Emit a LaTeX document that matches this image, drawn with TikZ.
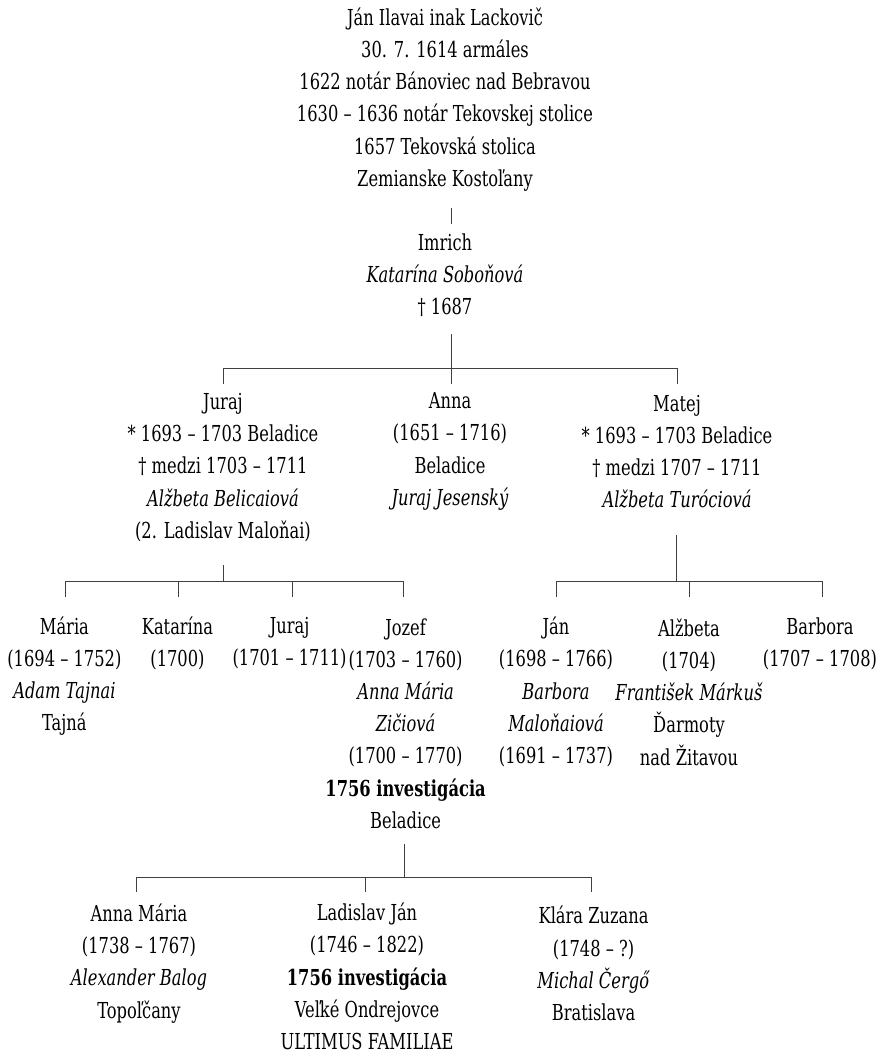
\documentclass[tikz,border=0pt]{standalone}
\usepackage{fontspec}
\setmainfont{DejaVu Serif}[FakeStretch=0.74]
\begin{document}
\begin{tikzpicture}[x=1pt,y=-1pt,
  person/.style={align=center, inner sep=0pt, font=\fontsize{22}{32.2}\selectfont},
  conn/.style={draw=black!75, line width=0.9pt}]
\useasboundingbox (0,0) rectangle (877,1052);
% nodes
\node[person] (top) at (445,99.4) {Ján Ilavai inak Lackovič\\30. 7. 1614 armáles\\1622 notár Bánoviec nad Bebravou\\1630 – 1636 notár Tekovskej stolice\\1657 Tekovská stolica\\Zemianske Kostoľany};
\node[person] (imrich) at (445,275) {Imrich\\\textit{Katarína Soboňová}\\† 1687};
\node[person] (juraj) at (223,467.5) {Juraj\\* 1693 – 1703 Beladice\\† medzi 1703 – 1711\\\textit{Alžbeta Belicaiová}\\(2. Ladislav Maloňai)};
\node[person] (anna) at (450,451.5) {Anna\\(1651 – 1716)\\Beladice\\\textit{Juraj Jesenský}};
\node[person] (matej) at (677,451.5) {Matej\\* 1693 – 1703 Beladice\\† medzi 1707 – 1711\\\textit{Alžbeta Turóciová}};
\node[person] (maria) at (64.4,676) {Mária\\(1694 – 1752)\\\textit{Adam Tajnai}\\Tajná};
\node[person] (katarina) at (177.5,643.5) {Katarína\\(1700)};
\node[person] (juraj2) at (289.6,643.5) {Juraj\\(1701 – 1711)};
\node[person] (jozef) at (405.6,723.5) {Jozef\\(1703 – 1760)\\\textit{Anna Mária}\\\textit{Zičiová}\\(1700 – 1770)\\\textbf{1756 investigácia}\\Beladice};
\node[person] (jan) at (556,692) {Ján\\(1698 – 1766)\\\textit{Barbora}\\\textit{Maloňaiová}\\(1691 – 1737)};
\node[person] (alzbeta) at (689,692) {Alžbeta\\(1704)\\\textit{František Márkuš}\\Ďarmoty\\nad Žitavou};
\node[person] (barbora) at (820,643.5) {Barbora\\(1707 – 1708)};
\node[person] (annam) at (139,963.5) {Anna Mária\\(1738 – 1767)\\\textit{Alexander Balog}\\Topoľčany};
\node[person] (ladislav) at (367,976.5) {Ladislav Ján\\(1746 – 1822)\\\textbf{1756 investigácia}\\Veľké Ondrejovce\\ULTIMUS FAMILIAE};
\node[person] (klara) at (593.6,963.5) {Klára Zuzana\\(1748 – ?)\\\textit{Michal Čergő}\\Bratislava};
% junction coordinates
\coordinate (s1a) at (451,208);
\coordinate (s1b) at (451,223.5);
\coordinate (s2a) at (451,334);
\coordinate (h2) at (451,368);
\coordinate (s2b) at (451,384);
\coordinate (s3a) at (223,565);
\coordinate (h3) at (223,581);
\coordinate (s4a) at (676.5,535);
\coordinate (h4) at (676.5,581);
\coordinate (s5a) at (404.6,844);
\coordinate (h5) at (404.6,877);
% connectors
\draw[conn] (s1a) -- (s1b);
\draw[conn] (s2a) -- (s2b);
\draw[conn] (juraj.north |- h2) -- (matej.north |- h2);
\draw[conn] (juraj.north |- h2) -- ++(0,16);
\draw[conn] (matej.north |- h2) -- ++(0,16);
\draw[conn] (s3a) -- (h3);
\draw[conn] (65,581) -- (403,581);
\foreach \xx in {65,178.5,292,403} \draw[conn] (\xx,581) -- ++(0,15.5);
\draw[conn] (s4a) -- (h4);
\draw[conn] (556,581) -- (822,581);
\foreach \xx in {556,689,822} \draw[conn] (\xx,581) -- ++(0,15.5);
\draw[conn] (s5a) -- (h5);
\draw[conn] (136,877) -- (591,877);
\foreach \xx in {136,365,591} \draw[conn] (\xx,877) -- ++(0,15);
\end{tikzpicture}
\end{document}
